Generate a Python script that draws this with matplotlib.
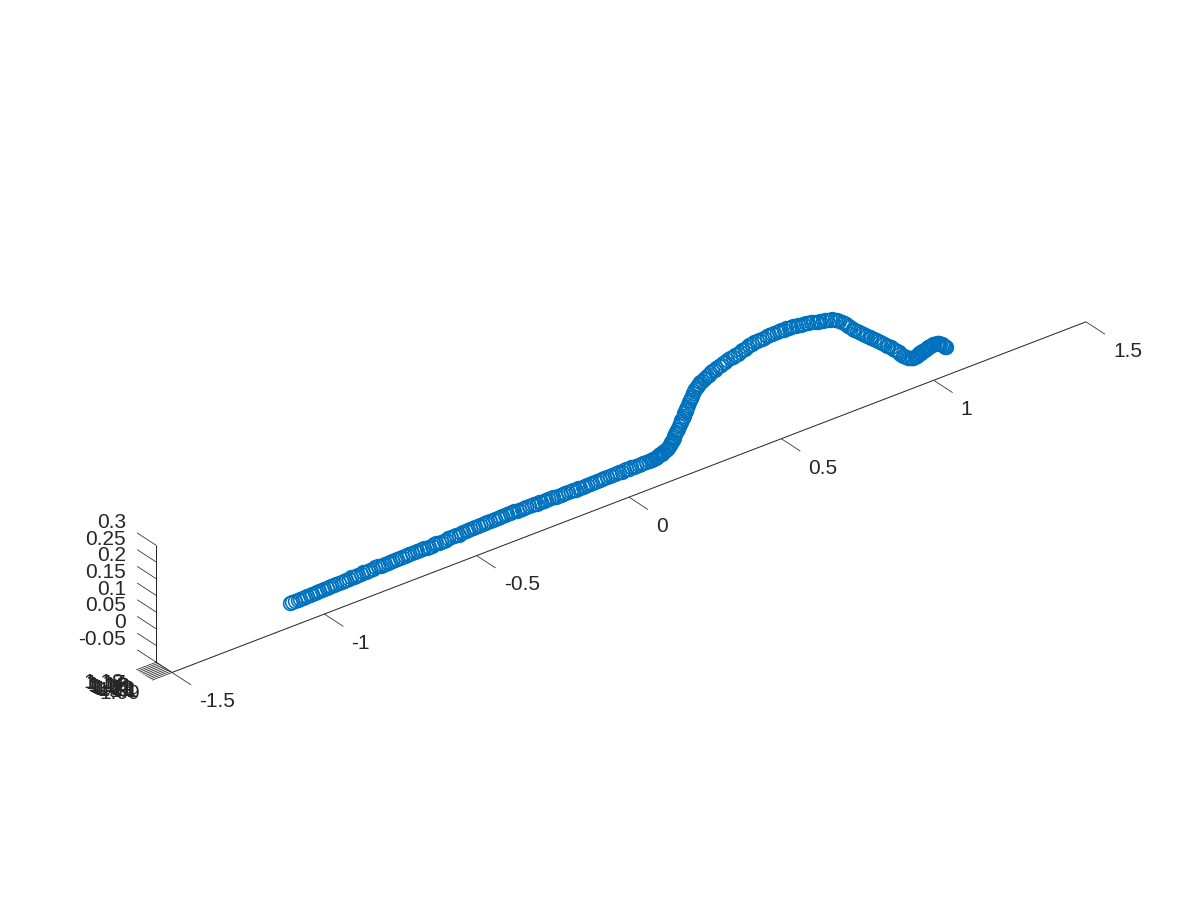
import matplotlib
matplotlib.use("Agg")
import matplotlib.pyplot as plt
from mpl_toolkits.mplot3d import proj3d

plt.rcParams['font.family'] = ['Liberation Sans', 'DejaVu Sans']

# ---- data: two passes along the same path ----
x_values = [
    -1.086, -1.07, -1.054, -1.038, -1.022, -1.006, -0.99, -0.974, -0.958, -0.942,
    -0.926, -0.91, -0.894, -0.878, -0.862, -0.846, -0.83, -0.814, -0.798, -0.782,
    -0.766, -0.75, -0.734, -0.718, -0.702, -0.686, -0.67, -0.654, -0.638, -0.622,
    -0.606, -0.59, -0.574, -0.558, -0.542, -0.526, -0.51, -0.494, -0.478, -0.462,
    -0.446, -0.43, -0.414, -0.398, -0.382, -0.366, -0.35, -0.334, -0.318, -0.302,
    -0.286, -0.27, -0.254, -0.238, -0.222, -0.206, -0.19, -0.174, -0.158, -0.142,
    -0.126, -0.11, -0.094, -0.078, -0.062, -0.046, -0.03, -0.014, 0.002, 0.018,
    0.034, 0.05, 0.066, 0.082, 0.098, 0.106, 0.114, 0.122, 0.130, 0.138,
    0.146, 0.154, 0.160, 0.166, 0.172, 0.178, 0.184, 0.190, 0.196, 0.202,
    0.208, 0.214, 0.220, 0.226, 0.232, 0.240, 0.248, 0.256, 0.266, 0.276,
    0.288, 0.300, 0.314, 0.328, 0.342, 0.358, 0.374, 0.390, 0.406, 0.422,
    0.438, 0.454, 0.470, 0.486, 0.502, 0.518, 0.534, 0.550, 0.566, 0.582,
    0.598, 0.614, 0.630, 0.646, 0.662, 0.678, 0.694, 0.710, 0.724, 0.738,
    0.752, 0.766, 0.780, 0.794, 0.808, 0.822, 0.836, 0.850, 0.864, 0.878,
    0.892, 0.906, 0.918, 0.930, 0.942, 0.952, 0.960, 0.968, 0.976, 0.984,
    0.992, 1.000, 1.008, 1.016, 1.024, 1.032, 1.040, 1.048, 1.056, 1.066,
]
y_values = [
    1.134, 1.135, 1.137, 1.136, 1.134, 1.135, 1.136, 1.136, 1.134, 1.135,
    1.137, 1.136, 1.134, 1.135, 1.136, 1.137, 1.134, 1.135, 1.136, 1.136,
    1.134, 1.136, 1.137, 1.135, 1.134, 1.136, 1.137, 1.136, 1.134, 1.135,
    1.136, 1.135, 1.134, 1.136, 1.137, 1.135, 1.134, 1.136, 1.136, 1.136,
    1.134, 1.135, 1.137, 1.136, 1.134, 1.135, 1.137, 1.136, 1.134, 1.135,
    1.136, 1.136, 1.134, 1.136, 1.137, 1.135, 1.134, 1.135, 1.136, 1.136,
    1.134, 1.136, 1.137, 1.135, 1.134, 1.136, 1.136, 1.135, 1.134, 1.136,
    1.137, 1.135, 1.134, 1.136, 1.136, 1.136, 1.134, 1.135, 1.137, 1.136,
    1.134, 1.135, 1.136, 1.136, 1.134, 1.136, 1.137, 1.135, 1.134, 1.135,
    1.137, 1.136, 1.134, 1.136, 1.136, 1.135, 1.134, 1.135, 1.137, 1.136,
    1.134, 1.136, 1.137, 1.135, 1.134, 1.136, 1.136, 1.135, 1.134, 1.136,
    1.137, 1.135, 1.134, 1.136, 1.136, 1.136, 1.134, 1.135, 1.137, 1.136,
    1.134, 1.135, 1.136, 1.136, 1.134, 1.136, 1.137, 1.135, 1.134, 1.136,
    1.136, 1.135, 1.134, 1.136, 1.137, 1.136, 1.134, 1.135, 1.136, 1.136,
    1.134, 1.135, 1.137, 1.136, 1.135, 1.135, 1.136, 1.135, 1.135, 1.136,
    1.136, 1.135, 1.135, 1.136, 1.136, 1.135, 1.135, 1.136, 1.136, 1.135,
]
z_values = [
    -0.003, -0.003, -0.002, -0.002, -0.001, -0.001, 0.000, 0.000, 0.001, 0.001,
    0.002, 0.003, 0.003, 0.004, 0.004, 0.005, 0.005, 0.005, 0.006, 0.006,
    0.006, 0.006, 0.007, 0.007, 0.007, 0.007, 0.007, 0.007, 0.007, 0.007,
    0.008, 0.008, 0.009, 0.009, 0.010, 0.010, 0.011, 0.011, 0.012, 0.012,
    0.013, 0.013, 0.014, 0.014, 0.014, 0.014, 0.014, 0.014, 0.014, 0.013,
    0.013, 0.013, 0.012, 0.012, 0.012, 0.011, 0.011, 0.010, 0.010, 0.010,
    0.009, 0.009, 0.009, 0.009, 0.010, 0.010, 0.010, 0.011, 0.011, 0.011,
    0.011, 0.011, 0.011, 0.011, 0.011, 0.011, 0.012, 0.014, 0.017, 0.020,
    0.024, 0.029, 0.035, 0.042, 0.051, 0.060, 0.070, 0.081, 0.090, 0.100,
    0.112, 0.124, 0.135, 0.146, 0.157, 0.168, 0.177, 0.184, 0.190, 0.195,
    0.201, 0.206, 0.211, 0.216, 0.220, 0.225, 0.229, 0.233, 0.237, 0.241,
    0.244, 0.246, 0.248, 0.249, 0.250, 0.250, 0.250, 0.249, 0.248, 0.246,
    0.244, 0.241, 0.238, 0.234, 0.231, 0.228, 0.224, 0.217, 0.206, 0.194,
    0.180, 0.168, 0.157, 0.146, 0.134, 0.123, 0.112, 0.101, 0.090, 0.079,
    0.067, 0.055, 0.041, 0.030, 0.022, 0.017, 0.016, 0.017, 0.020, 0.023,
    0.026, 0.028, 0.030, 0.032, 0.033, 0.033, 0.032, 0.027, 0.020, 0.010,
]
x_second = [
    -1.078, -1.062, -1.046, -1.03, -1.014, -0.998, -0.982, -0.966, -0.95, -0.934,
    -0.918, -0.902, -0.886, -0.87, -0.854, -0.838, -0.822, -0.806, -0.79, -0.774,
    -0.758, -0.742, -0.726, -0.71, -0.694, -0.678, -0.662, -0.646, -0.63, -0.614,
    -0.598, -0.582, -0.566, -0.55, -0.534, -0.518, -0.502, -0.486, -0.47, -0.454,
    -0.438, -0.422, -0.406, -0.39, -0.374, -0.358, -0.342, -0.326, -0.31, -0.294,
    -0.278, -0.262, -0.246, -0.23, -0.214, -0.198, -0.182, -0.166, -0.15, -0.134,
    -0.118, -0.102, -0.086, -0.07, -0.054, -0.038, -0.022, -0.006, 0.01, 0.026,
    0.042, 0.058, 0.074, 0.090, 0.102, 0.110, 0.118, 0.126, 0.134, 0.142,
    0.150, 0.157, 0.163, 0.169, 0.175, 0.181, 0.187, 0.193, 0.199, 0.205,
    0.211, 0.217, 0.223, 0.229, 0.236, 0.244, 0.252, 0.261, 0.271, 0.282,
    0.294, 0.307, 0.321, 0.335, 0.350, 0.366, 0.382, 0.398, 0.414, 0.430,
    0.446, 0.462, 0.478, 0.494, 0.510, 0.526, 0.542, 0.558, 0.574, 0.590,
    0.606, 0.622, 0.638, 0.654, 0.670, 0.686, 0.702, 0.717, 0.731, 0.745,
    0.759, 0.773, 0.787, 0.801, 0.815, 0.829, 0.843, 0.857, 0.871, 0.885,
    0.899, 0.912, 0.924, 0.936, 0.947, 0.956, 0.964, 0.972, 0.980, 0.988,
    0.996, 1.004, 1.012, 1.020, 1.028, 1.036, 1.044, 1.052, 1.061, 1.064,
]
y_second = [
    1.136, 1.135, 1.134, 1.135, 1.136, 1.135, 1.134, 1.135, 1.136, 1.136,
    1.134, 1.135, 1.137, 1.135, 1.134, 1.135, 1.136, 1.136, 1.134, 1.135,
    1.136, 1.135, 1.134, 1.135, 1.137, 1.135, 1.134, 1.135, 1.136, 1.135,
    1.134, 1.136, 1.136, 1.135, 1.134, 1.135, 1.136, 1.135, 1.134, 1.135,
    1.136, 1.135, 1.134, 1.135, 1.137, 1.136, 1.134, 1.135, 1.136, 1.135,
    1.134, 1.135, 1.136, 1.135, 1.134, 1.136, 1.136, 1.135, 1.134, 1.135,
    1.136, 1.135, 1.134, 1.135, 1.136, 1.135, 1.134, 1.136, 1.136, 1.135,
    1.134, 1.135, 1.136, 1.135, 1.134, 1.135, 1.136, 1.136, 1.134, 1.135,
    1.136, 1.135, 1.134, 1.135, 1.136, 1.135, 1.134, 1.136, 1.137, 1.135,
    1.134, 1.135, 1.136, 1.135, 1.134, 1.135, 1.136, 1.136, 1.134, 1.135,
    1.136, 1.135, 1.134, 1.135, 1.137, 1.135, 1.134, 1.136, 1.136, 1.135,
    1.134, 1.135, 1.136, 1.135, 1.134, 1.135, 1.136, 1.136, 1.134, 1.135,
    1.136, 1.135, 1.134, 1.135, 1.136, 1.135, 1.134, 1.136, 1.136, 1.135,
    1.134, 1.135, 1.136, 1.135, 1.134, 1.135, 1.136, 1.136, 1.134, 1.135,
    1.136, 1.135, 1.134, 1.135, 1.136, 1.136, 1.135, 1.135, 1.136, 1.135,
    1.135, 1.135, 1.136, 1.135, 1.135, 1.135, 1.136, 1.135, 1.135, 1.135,
]
z_second = [
    -0.003, -0.002, -0.002, -0.001, -0.001, 0.000, 0.000, 0.001, 0.001, 0.002,
    0.002, 0.003, 0.004, 0.004, 0.005, 0.005, 0.005, 0.006, 0.006, 0.006,
    0.006, 0.007, 0.007, 0.007, 0.007, 0.007, 0.007, 0.007, 0.007, 0.008,
    0.008, 0.008, 0.009, 0.010, 0.010, 0.011, 0.011, 0.012, 0.012, 0.013,
    0.013, 0.014, 0.014, 0.014, 0.014, 0.014, 0.014, 0.014, 0.013, 0.013,
    0.013, 0.012, 0.012, 0.012, 0.011, 0.011, 0.010, 0.010, 0.010, 0.009,
    0.009, 0.009, 0.009, 0.010, 0.010, 0.010, 0.011, 0.011, 0.011, 0.011,
    0.011, 0.011, 0.011, 0.011, 0.011, 0.012, 0.013, 0.015, 0.018, 0.022,
    0.026, 0.032, 0.039, 0.046, 0.055, 0.065, 0.075, 0.085, 0.095, 0.106,
    0.118, 0.130, 0.140, 0.152, 0.163, 0.173, 0.181, 0.187, 0.193, 0.198,
    0.204, 0.209, 0.214, 0.218, 0.223, 0.227, 0.231, 0.235, 0.239, 0.243,
    0.245, 0.247, 0.249, 0.250, 0.250, 0.250, 0.250, 0.249, 0.247, 0.245,
    0.243, 0.240, 0.236, 0.233, 0.229, 0.226, 0.221, 0.212, 0.200, 0.187,
    0.174, 0.162, 0.151, 0.140, 0.128, 0.117, 0.106, 0.095, 0.084, 0.073,
    0.061, 0.049, 0.035, 0.026, 0.019, 0.016, 0.016, 0.018, 0.022, 0.025,
    0.027, 0.029, 0.031, 0.033, 0.033, 0.033, 0.030, 0.024, 0.015, 0.012,
]
x_ticks = [-1.5, -1, -0.5, 0, 0.5, 1, 1.5]
x_tick_labels = ['-1.5', '-1', '-0.5', '0', '0.5', '1', '1.5']
y_ticks = [1.09, 1.10, 1.11, 1.12, 1.13, 1.14, 1.15, 1.16, 1.17, 1.18]
y_tick_labels = ['1.09', '1.1', '1.11', '1.12', '1.13', '1.14', '1.15', '1.16', '1.17', '1.18']
z_ticks = [-0.05, 0, 0.05, 0.1, 0.15, 0.2, 0.25, 0.3]
z_tick_labels = ['-0.05', '0', '0.05', '0.1', '0.15', '0.2', '0.25', '0.3']

# ---- style / layout ----
BLUE = '#0072BD'
DARK = '#262626'
FS = 15.0
XMIN, XMAX = x_ticks[0], x_ticks[-1]
YMIN, YMAX = y_ticks[0], y_ticks[-1]
ZMIN, ZMAX = z_ticks[0], z_ticks[-1]
TARGET_A = (172.0, 672.5)   # pixel position of the front-left axis corner
TARGET_B = (1086.0, 322.0)  # pixel position of the far end of the x axis

fig = plt.figure(figsize=(12, 9), dpi=100, facecolor='white')
ax = fig.add_axes([0, 0, 1, 1], projection='3d', proj_type='ortho')
ax.set_axis_off()
ax.view_init(elev=30, azim=-127.5)
ax.set_xlim(XMIN, XMAX)
ax.set_ylim(YMIN, YMAX)
ax.set_zlim(ZMIN, ZMAX)
BOX = (1152.6, 26.0, 135.0)
ax.set_box_aspect(BOX, zoom=1.0)


def to_pixels(x, y, z):
    fig.canvas.draw()
    xp, yp, _ = proj3d.proj_transform(x, y, z, ax.get_proj())
    return ax.transData.transform((xp, yp))


# Fit the box so that the x axis lands where it does in the reference.
a = to_pixels(XMIN, YMIN, ZMIN)
b = to_pixels(XMAX, YMIN, ZMIN)
ax.set_box_aspect(BOX, zoom=(TARGET_B[0] - TARGET_A[0]) / (b[0] - a[0]))
a = to_pixels(XMIN, YMIN, ZMIN)
ax.set_position([(TARGET_A[0] - a[0]) / 1200, (900 - TARGET_A[1] - a[1]) / 900, 1, 1])

line_kw = dict(color=DARK, clip_on=False, solid_capstyle='butt')
TICK_Y = 0.108   # x and z ticks run along y
TICK_X = 0.0656  # y ticks run along x

# axis lines
ax.plot([XMIN, XMAX], [YMIN, YMIN], [ZMIN, ZMIN], lw=0.72, **line_kw)
ax.plot([XMIN, XMIN], [YMIN, YMAX], [ZMIN, ZMIN], lw=0.72, **line_kw)
ax.plot([XMIN, XMIN], [YMAX, YMAX], [ZMIN, ZMAX], lw=0.72, **line_kw)

# x ticks
for t, lab in zip(x_ticks, x_tick_labels):
    ax.plot([t, t], [YMIN, YMIN - TICK_Y], [ZMIN, ZMIN], lw=0.55, **line_kw)
    ax.text(t + 0.0263, YMIN - TICK_Y, ZMIN - 0.060, lab, ha='left', va='center',
            fontsize=FS, color=DARK)

# y ticks
for t, lab in zip(y_ticks, y_tick_labels):
    ax.plot([XMIN, XMIN - TICK_X], [t, t], [ZMIN, ZMIN], lw=0.55, **line_kw)
    ax.text(XMIN - TICK_X - 0.0394, t, ZMIN - 0.025, lab, ha='right', va='center',
            fontsize=FS, color=DARK)

# z ticks
for t, lab in zip(z_ticks, z_tick_labels):
    ax.plot([XMIN, XMIN], [YMAX, YMAX + TICK_Y], [t, t], lw=0.55, **line_kw)
    ax.text(XMIN - 0.036, YMAX + TICK_Y, t + 0.044, lab, ha='right', va='center',
            fontsize=FS, color=DARK)

# data
marker_kw = dict(linestyle='none', marker='o', markersize=9.9, markerfacecolor='none',
                 markeredgecolor=BLUE, markeredgewidth=1.15, clip_on=False)
ax.plot(x_values, y_values, z_values, **marker_kw)
ax.plot(x_second, y_second, z_second, **marker_kw)

fig.savefig('out.png', dpi=100, facecolor='white')
